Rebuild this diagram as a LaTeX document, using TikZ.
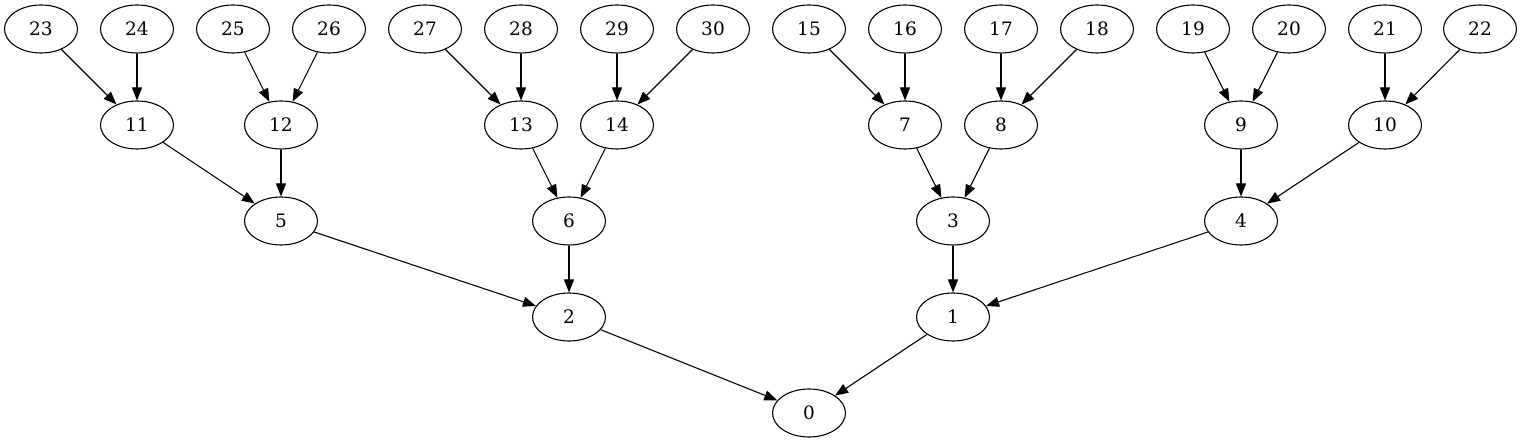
\documentclass[tikz,border=0pt]{standalone}
\usepackage{fontspec}
\setmainfont{DejaVu Serif}
\usetikzlibrary{arrows.meta,shapes.geometric}
\begin{document}
\begin{tikzpicture}[x=1pt,y=-1pt,
  nd/.style={draw,ellipse,line width=1.1pt,minimum width=73pt,minimum height=48pt,inner sep=0pt,font=\fontsize{18.5}{18.5}\selectfont},
  ed/.style={line width=1.1pt,-{Triangle[length=13pt,width=10pt]}}]
\useasboundingbox (0,0) rectangle (1523,443);
\foreach \n/\x in {23/41,24/137,25/233,26/329,27/425,28/521,29/617,30/713,15/809,16/905,17/1001,18/1097,19/1193,20/1289,21/1385,22/1480}
  \node[nd] (n\n) at (\x,29) {\n};
\foreach \n/\x in {11/137,12/281,13/521,14/617,7/905,8/1001,9/1241,10/1385}
  \node[nd] (n\n) at (\x,125) {\n};
\foreach \n/\x in {5/281,6/569,3/953,4/1241}
  \node[nd] (n\n) at (\x,221) {\n};
\foreach \n/\x in {2/569,1/953}
  \node[nd] (n\n) at (\x,317) {\n};
\node[nd] (n0) at (809,413) {0};
\foreach \a/\b in {23/11,24/11,25/12,26/12,27/13,28/13,29/14,30/14,15/7,16/7,17/8,18/8,19/9,20/9,21/10,22/10,11/5,12/5,13/6,14/6,7/3,8/3,9/4,10/4,5/2,6/2,3/1,4/1,2/0,1/0}
  \draw[ed] (n\a) -- (n\b);
\end{tikzpicture}
\end{document}
